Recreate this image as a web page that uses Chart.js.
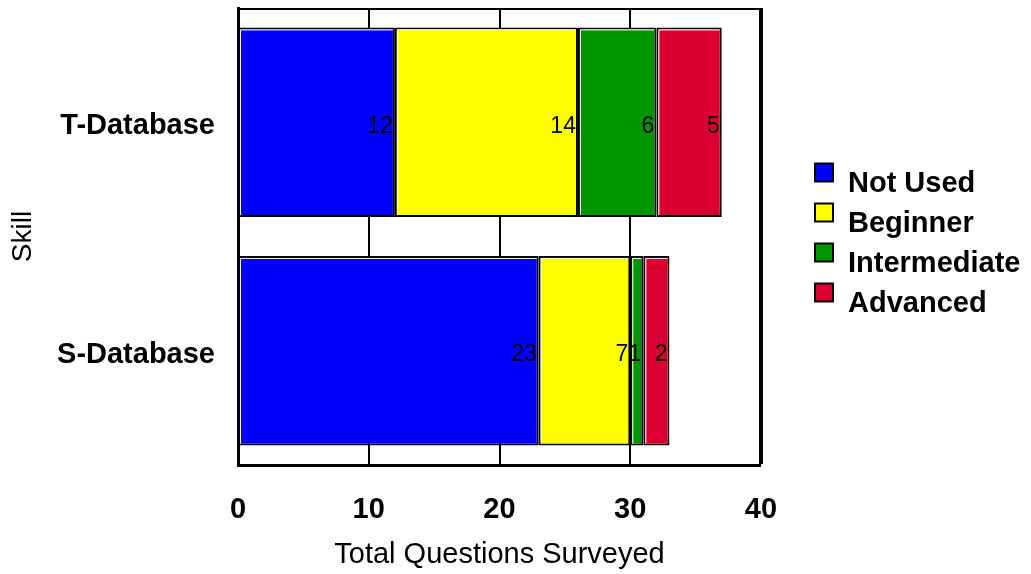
<!DOCTYPE html>
<html>
<head>
<meta charset="utf-8">
<script src="https://cdn.jsdelivr.net/npm/chart.js@4.4.1/dist/chart.umd.min.js"></script>
<style>
  html, body { margin: 0; padding: 0; background: #fff; }
  #skillChart { display: block; }
</style>
</head>
<body>
<canvas id="skillChart" width="1031" height="574"></canvas>
<script>
// === DATOS ===
const categories = ["T-Database", "S-Database"];
const seriesNames = ["Not Used", "Beginner", "Intermediate", "Advanced"];
const notUsed = [12, 23];
const beginner = [14, 7];
const intermediate = [6, 1];
const advanced = [5, 2];
const xTicks = [0, 10, 20, 30, 40];

const colors = ["#0000FF", "#FFFF00", "#009600", "#DC0032"];
const FONT = "Arial, 'Liberation Sans', sans-serif";

// === ETIQUETAS DE VALOR Y BRILLO DE BARRAS ===
const valueLabels = {
  id: "valueLabels",
  afterDatasetsDraw(chart) {
    const ctx = chart.ctx;
    ctx.save();
    // línea blanca interior arriba / izquierda
    ctx.strokeStyle = "#fff";
    ctx.lineWidth = 1;
    chart.data.datasets.forEach((ds, i) => {
      chart.getDatasetMeta(i).data.forEach((bar) => {
        const x0 = Math.min(bar.base, bar.x) + 2.5;
        const x1 = Math.max(bar.base, bar.x) - 2;
        const y0 = bar.y - bar.height / 2 + 2.5;
        const y1 = bar.y + bar.height / 2 - 2;
        if (x1 - x0 < 2) return;
        ctx.beginPath();
        ctx.moveTo(x0, y1);
        ctx.lineTo(x0, y0);
        ctx.lineTo(x1, y0);
        ctx.stroke();
      });
    });
    ctx.font = "23px " + FONT;
    ctx.fillStyle = "#000";
    ctx.textAlign = "right";
    ctx.textBaseline = "middle";
    chart.data.datasets.forEach((ds, i) => {
      chart.getDatasetMeta(i).data.forEach((bar, j) => {
        ctx.fillText(String(ds.data[j]), bar.x - 2, bar.y + 4);
      });
    });
    ctx.restore();
  },
};

// === MARCO SUPERIOR ===
const frameTop = {
  id: "frameTop",
  beforeDatasetsDraw(chart) {
    const a = chart.chartArea;
    const ctx = chart.ctx;
    ctx.save();
    ctx.strokeStyle = "#000";
    ctx.lineWidth = 2;
    ctx.beginPath();
    ctx.moveTo(a.left, a.top + 1);
    ctx.lineTo(a.right, a.top + 1);
    ctx.stroke();
    ctx.restore();
  },
};

// === LEYENDA ===
const sideLegend = {
  id: "sideLegend",
  afterDraw(chart) {
    const a = chart.chartArea;
    const ctx = chart.ctx;
    const mid = (a.top + a.bottom) / 2;
    ctx.save();
    ctx.font = "bold 29px " + FONT;
    ctx.textAlign = "left";
    ctx.textBaseline = "middle";
    chart.data.datasets.forEach((ds, i) => {
      const cy = mid - 57 + i * 40;
      const bx = a.right + 54;
      ctx.fillStyle = ds.backgroundColor;
      ctx.fillRect(bx, cy - 16, 18, 18);
      ctx.strokeStyle = "#000";
      ctx.lineWidth = 2;
      ctx.strokeRect(bx, cy - 16, 18, 18);
      ctx.fillStyle = "#000";
      ctx.fillText(ds.label, a.right + 87, cy + 4);
    });
    ctx.restore();
  },
};

// === GRÁFICO ===
const seriesData = [notUsed, beginner, intermediate, advanced];

new Chart(document.getElementById("skillChart"), {
  type: "bar",
  data: {
    labels: categories,
    datasets: seriesNames.map((name, i) => ({
      label: name,
      data: seriesData[i],
      backgroundColor: colors[i],
      borderColor: "#000",
      borderWidth: 2,
      borderSkipped: false,
      categoryPercentage: 1,
      barPercentage: 0.83,
    })),
  },
  plugins: [frameTop, valueLabels, sideLegend],
  options: {
    indexAxis: "y",
    responsive: false,
    animation: false,
    layout: { padding: { left: 0, right: 270, top: 8, bottom: 0 } },
    plugins: { legend: { display: false }, tooltip: { enabled: false } },
    scales: {
      x: {
        stacked: true,
        min: 0,
        max: 40,
        afterBuildTicks: (scale) => { scale.ticks = xTicks.map(v => ({ value: v })); },
        afterFit: (scale) => {
          scale.height = 109;
          scale.paddingLeft = 0;
          scale.paddingRight = 0;
        },
        grid: {
          color: "#000",
          lineWidth: (c) => (c.tick && c.tick.value === 40 ? 4 : c.tick && c.tick.value === 0 ? 0 : 2),
          drawTicks: false,
        },
        border: { display: true, color: "#000", width: 3 },
        ticks: {
          color: "#000",
          padding: 28,
          font: { family: FONT, size: 29, weight: "bold" },
        },
        title: {
          display: true,
          text: "Total Questions Surveyed",
          color: "#000",
          padding: { top: 0, bottom: 2 },
          font: { family: FONT, size: 29 },
        },
      },
      y: {
        stacked: true,
        afterFit: (scale) => {
          scale.width = 238;
          scale.paddingTop = 0;
          scale.paddingBottom = 0;
        },
        grid: { display: false, drawTicks: false },
        border: { display: true, color: "#000", width: 3 },
        ticks: {
          color: "#000",
          padding: 23,
          labelOffset: 4,
          font: { family: FONT, size: 29, weight: "bold" },
        },
        title: {
          display: true,
          text: "Skill",
          color: "#000",
          padding: { top: 6, bottom: 0 },
          font: { family: FONT, size: 28 },
        },
      },
    },
  },
});
</script>
</body>
</html>
